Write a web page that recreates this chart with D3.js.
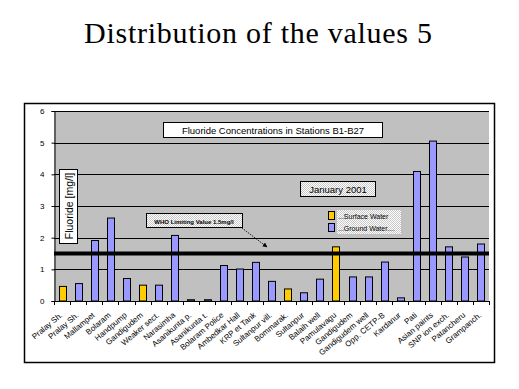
<!DOCTYPE html>
<html lang="en">
<head>
  <meta charset="UTF-8">
  <title>Distribution of the values 5</title>
  <script src="https://d3js.org/d3.v7.min.js"></script>
  <style>
    body { margin: 0; background: #fff; }
  </style>
</head>
<body>
  <svg id="svg1"></svg>
  <script>
    const stations = ["Pralay Sh.", "Pralay Sh.", "Mallampet", "Bolaram", "Handpump", "Gandigudem",
      "Weaker sect.", "Narasimha", "Asanikunta p.", "Asanikunta t.", "Bolaram Police", "Ambedkar Hall",
      "KRP et Tank", "Sultanpur vill.", "Bommarak.", "Sultanpur", "Balaih well", "Pamulavagu",
      "Gandigudem", "Gandigudem well", "Opp. CETP-B", "Kardanur", "Pati", "Asian paints",
      "SNP ion exch.", "Patancheru", "Grampanch."];
    const fluoride = [0.46, 0.55, 1.91, 2.62, 0.71, 0.5, 0.5, 2.07, 0.04, 0.04, 1.12, 1.01,
      1.22, 0.62, 0.38, 0.26, 0.69, 1.71, 0.76, 0.76, 1.23, 0.1, 4.09, 5.05, 1.71, 1.39, 1.8];
    const waterType = ["S", "G", "G", "G", "G", "S", "G", "G", "G", "G", "G", "G", "G", "G",
      "S", "G", "G", "S", "G", "G", "G", "G", "G", "G", "G", "G", "G"];
    const yTicks = [0, 1, 2, 3, 4, 5, 6];
    const whoLimit = 1.5;

    const width = 519, height = 389;
    const plot = {left: 54, right: 489, top: 111, bottom: 301};
    const colors = {S: "#FFCC00", G: "#9999FF"};
    const sans = "Arial, 'Liberation Sans', sans-serif";

    const svg = d3.select('#svg1')
      .attr('width', width)
      .attr('height', height);

    svg.append('text')
      .attr('x', 258)
      .attr('y', 43)
      .attr('text-anchor', 'middle')
      .attr('font-family', "'Times New Roman', 'Liberation Serif', serif")
      .attr('font-size', 30)
      .attr('textLength', 348)
      .attr('lengthAdjust', 'spacing')
      .text('Distribution of the values 5');

    // chart frame
    svg.append('rect')
      .attr('x', 24.5).attr('y', 103.5)
      .attr('width', 470).attr('height', 259)
      .attr('fill', '#fff')
      .attr('stroke', '#000')
      .attr('stroke-width', 1.5);

    const xScale = d3.scaleBand()
      .domain(d3.range(stations.length))
      .range([plot.left, plot.right]);

    const yScale = d3.scaleLinear()
      .domain([0, 6])
      .range([plot.bottom, plot.top]);

    svg.append('rect')
      .attr('x', plot.left).attr('y', plot.top)
      .attr('width', plot.right - plot.left)
      .attr('height', plot.bottom - plot.top)
      .attr('fill', '#C0C0C0');

    // gridlines
    svg.append('g')
      .selectAll('line')
      .data(yTicks.slice(1))
      .enter()
      .append('line')
      .attr('x1', plot.left).attr('x2', plot.right)
      .attr('y1', d => Math.round(yScale(d)) + 0.5)
      .attr('y2', d => Math.round(yScale(d)) + 0.5)
      .attr('stroke', '#000')
      .attr('stroke-width', 1);

    // bars
    const bw = 7;
    svg.append('g')
      .selectAll('rect')
      .data(fluoride)
      .enter()
      .append('rect')
      .attr('x', (d, i) => Math.round(xScale(i) + (xScale.bandwidth() - bw) / 2) + 0.5)
      .attr('y', d => yScale(d))
      .attr('width', bw)
      .attr('height', d => plot.bottom - yScale(d))
      .attr('fill', (d, i) => colors[waterType[i]])
      .attr('stroke', '#000')
      .attr('stroke-width', 1);

    // WHO limit line
    svg.append('line')
      .attr('x1', plot.left).attr('x2', plot.right)
      .attr('y1', yScale(whoLimit)).attr('y2', yScale(whoLimit))
      .attr('stroke', '#000')
      .attr('stroke-width', 4);

    // left axis
    const leftAxis = d3.axisLeft(yScale).tickValues(yTicks).tickSize(3).tickFormat(d3.format('d'));
    const gy = svg.append('g')
      .attr('transform', `translate(${plot.left + 0.5}, 0)`)
      .call(leftAxis);
    gy.select('.domain').attr('stroke', '#000');
    gy.selectAll('text').attr('font-family', sans).attr('font-size', 8).attr('dx', -4);

    // bottom axis with ticks between categories
    const gx = svg.append('g');
    gx.append('line')
      .attr('x1', plot.left).attr('x2', plot.right)
      .attr('y1', plot.bottom + 0.5).attr('y2', plot.bottom + 0.5)
      .attr('stroke', '#000');
    gx.selectAll('line.tk')
      .data(d3.range(stations.length + 1))
      .enter()
      .append('line')
      .attr('class', 'tk')
      .attr('x1', i => Math.round(i < stations.length ? xScale(i) : plot.right) + 0.5)
      .attr('x2', i => Math.round(i < stations.length ? xScale(i) : plot.right) + 0.5)
      .attr('y1', plot.bottom).attr('y2', plot.bottom + 4)
      .attr('stroke', '#000');
    gx.selectAll('text')
      .data(stations)
      .enter()
      .append('text')
      .attr('transform', (d, i) => `translate(${xScale(i) + xScale.bandwidth() / 2 + 1}, ${plot.bottom + 15}) rotate(-40)`)
      .attr('text-anchor', 'end')
      .attr('font-family', sans)
      .attr('font-size', 8)
      .text(d => d);

    // y axis title box
    svg.append('rect')
      .attr('x', 59.5).attr('y', 169.5).attr('width', 18).attr('height', 74)
      .attr('fill', '#fff').attr('stroke', '#000');
    svg.append('text')
      .attr('transform', 'translate(72.5, 206) rotate(-90)')
      .attr('text-anchor', 'middle')
      .attr('font-family', sans)
      .attr('font-size', 10.5)
      .text('Fluoride [mg/l]');

    // chart title box
    svg.append('rect')
      .attr('x', 163.5).attr('y', 122.5).attr('width', 219).attr('height', 15)
      .attr('fill', '#fff').attr('stroke', '#000');
    svg.append('text')
      .attr('x', 273).attr('y', 134)
      .attr('text-anchor', 'middle')
      .attr('font-family', sans)
      .attr('font-size', 9.5)
      .text('Fluoride Concentrations in Stations B1-B27');

    // dotted fill pattern
    const pat = svg.append('defs').append('pattern')
      .attr('id', 'dots').attr('width', 2).attr('height', 2)
      .attr('patternUnits', 'userSpaceOnUse');
    pat.append('rect').attr('width', 2).attr('height', 2).attr('fill', '#fff');
    pat.append('rect').attr('width', 1).attr('height', 1).attr('fill', '#c8c8c8');
    pat.append('rect').attr('x', 1).attr('y', 1).attr('width', 1).attr('height', 1).attr('fill', '#c8c8c8');

    // date box
    svg.append('rect')
      .attr('x', 300.5).attr('y', 181.5).attr('width', 75).attr('height', 15)
      .attr('fill', 'url(#dots)').attr('stroke', '#000');
    svg.append('text')
      .attr('x', 338).attr('y', 193)
      .attr('text-anchor', 'middle')
      .attr('font-family', sans)
      .attr('font-size', 9.5)
      .text('January 2001');

    // WHO label + arrow
    svg.append('rect')
      .attr('x', 146.5).attr('y', 213.5).attr('width', 96).attr('height', 14)
      .attr('fill', 'url(#dots)').attr('stroke', '#000');
    svg.append('text')
      .attr('x', 194).attr('y', 223.5)
      .attr('text-anchor', 'middle')
      .attr('font-family', sans)
      .attr('font-size', 6)
      .attr('font-weight', 'bold')
      .text('WHO  Limiting Value 1.5mg/l');
    svg.append('defs').append('marker')
      .attr('id', 'arr').attr('viewBox', '0 0 10 10')
      .attr('refX', 9).attr('refY', 5)
      .attr('markerWidth', 6).attr('markerHeight', 6)
      .attr('orient', 'auto')
      .append('path').attr('d', 'M0,0 L10,5 L0,10 z').attr('fill', '#000');
    svg.append('line')
      .attr('x1', 242).attr('y1', 228).attr('x2', 267).attr('y2', 247)
      .attr('stroke', '#000').attr('stroke-width', 0.8)
      .attr('stroke-dasharray', '1.5,1')
      .attr('marker-end', 'url(#arr)');

    // legend
    const legendItems = [
      {key: "S", label: "...Surface Water"},
      {key: "G", label: "...Ground Water...."}
    ];
    svg.append('rect')
      .attr('x', 337).attr('y', 210).attr('width', 64).attr('height', 24)
      .attr('fill', 'url(#dots)');
    const lg = svg.append('g').selectAll('g')
      .data(legendItems)
      .enter()
      .append('g')
      .attr('transform', (d, i) => `translate(328, ${211 + i * 12})`);
    lg.append('rect')
      .attr('x', 0.5).attr('y', 0.5).attr('width', 6).attr('height', 8)
      .attr('fill', d => colors[d.key]).attr('stroke', '#000');
    lg.append('text')
      .attr('x', 10).attr('y', 7.5)
      .attr('font-family', sans)
      .attr('font-size', 7)
      .text(d => d.label);
  </script>
</body>
</html>
